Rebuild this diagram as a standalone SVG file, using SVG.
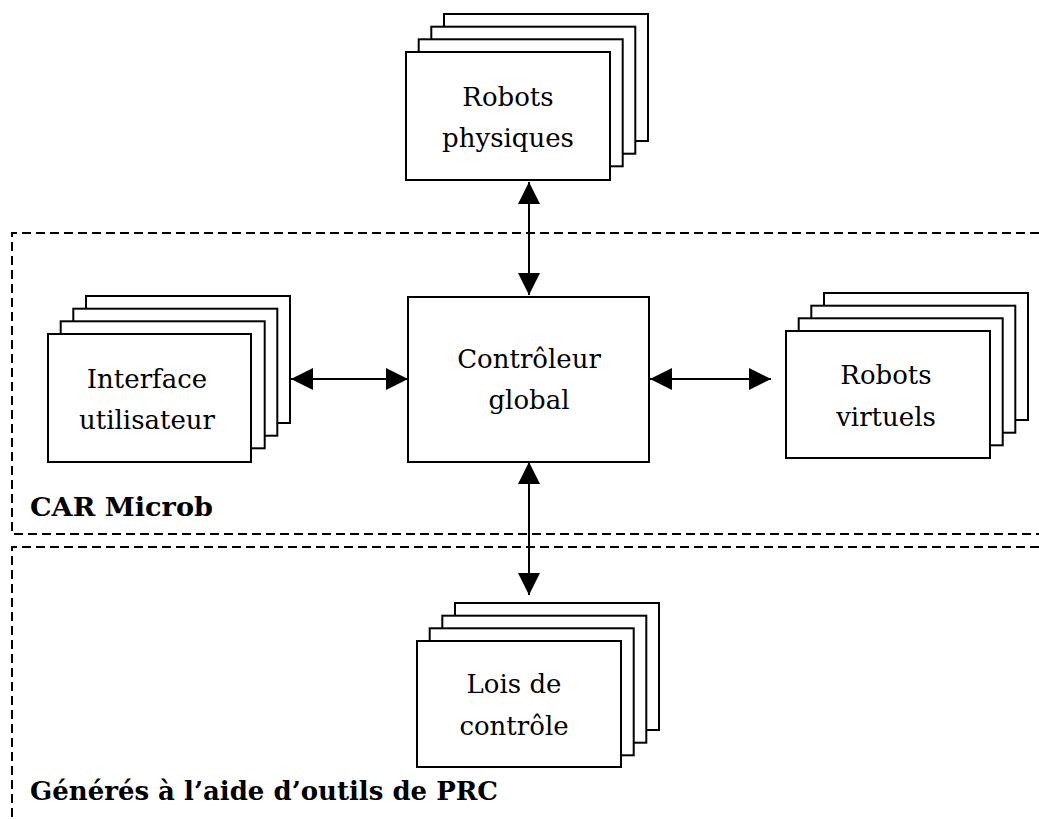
<svg xmlns="http://www.w3.org/2000/svg" width="1039" height="819" viewBox="0 0 1039 819">
<style>
.bx{fill:#fff;stroke:#000;stroke-width:2}
.dash{fill:none;stroke:#000;stroke-width:2;stroke-dasharray:9 5}
.ln{stroke:#000;stroke-width:2;fill:none}
.t{font-family:"DejaVu Serif","Liberation Serif",serif;font-size:26px;fill:#000;text-anchor:middle}
.lbl{font-family:"DejaVu Serif","Liberation Serif",serif;font-size:26px;font-weight:bold;fill:#000}
</style>
<defs>
<marker id="ah" markerUnits="userSpaceOnUse" markerWidth="22" markerHeight="22" refX="22" refY="11" orient="auto-start-reverse">
<path d="M0,0 L22,11 L0,22 z" fill="#000"/>
</marker>
</defs>
<rect width="1039" height="819" fill="#fff"/>
<g id="regions">
<path class="dash" d="M1039,233 H12 V534 H1039"/>
<path class="dash" d="M1039,547 H12 V819"/>
<text class="lbl" x="30" y="516" textLength="183" lengthAdjust="spacingAndGlyphs">CAR Microb</text>
<text class="lbl" x="30" y="800" textLength="468" lengthAdjust="spacingAndGlyphs">Générés à l’aide d’outils de PRC</text>
</g>
<g id="connectors">
<line class="ln" x1="529" y1="182" x2="529" y2="295" marker-start="url(#ah)" marker-end="url(#ah)"/>
<line class="ln" x1="529" y1="462" x2="529" y2="595" marker-start="url(#ah)" marker-end="url(#ah)"/>
<line class="ln" x1="291" y1="379" x2="408" y2="379" marker-start="url(#ah)" marker-end="url(#ah)"/>
<line class="ln" x1="650" y1="379" x2="771" y2="379" marker-start="url(#ah)" marker-end="url(#ah)"/>
</g>
<g id="robots-physiques">
<rect class="bx" x="444" y="14" width="204" height="127"/>
<rect class="bx" x="431.3" y="26.7" width="204" height="127"/>
<rect class="bx" x="418.7" y="39.3" width="204" height="127"/>
<rect class="bx" x="406" y="52" width="204" height="128"/>
<text class="t" x="508" y="106">Robots</text>
<text class="t" x="508" y="147">physiques</text>
</g>
<g id="interface-utilisateur">
<rect class="bx" x="86" y="296" width="204" height="127"/>
<rect class="bx" x="73.3" y="308.7" width="204" height="127"/>
<rect class="bx" x="60.7" y="321.3" width="204" height="127"/>
<rect class="bx" x="48" y="334" width="203" height="128"/>
<text class="t" x="147" y="388">Interface</text>
<text class="t" x="147" y="429">utilisateur</text>
</g>
<g id="controleur-global">
<rect class="bx" x="408" y="297" width="241" height="165"/>
<text class="t" x="529" y="368">Contrôleur</text>
<text class="t" x="529" y="409">global</text>
</g>
<g id="robots-virtuels">
<rect class="bx" x="824" y="293" width="204" height="127"/>
<rect class="bx" x="811.3" y="305.7" width="204" height="127"/>
<rect class="bx" x="798.7" y="318.3" width="204" height="127"/>
<rect class="bx" x="786" y="331" width="204" height="127"/>
<text class="t" x="886" y="384">Robots</text>
<text class="t" x="886" y="426">virtuels</text>
</g>
<g id="lois-de-controle">
<rect class="bx" x="455" y="603" width="204" height="127"/>
<rect class="bx" x="442.3" y="615.7" width="204" height="127"/>
<rect class="bx" x="429.7" y="628.3" width="204" height="127"/>
<rect class="bx" x="417" y="641" width="204" height="126"/>
<text class="t" x="514" y="693">Lois de</text>
<text class="t" x="514" y="735">contrôle</text>
</g>
</svg>
